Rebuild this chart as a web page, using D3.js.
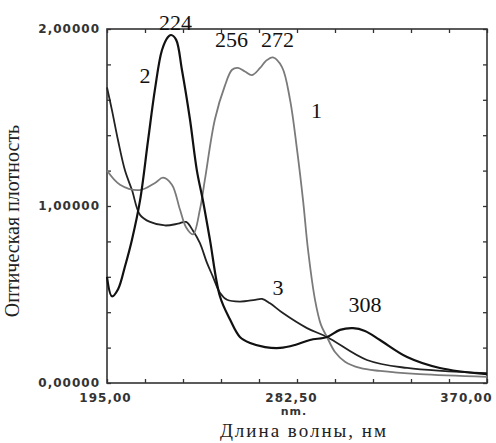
<!DOCTYPE html>
<html>
<head>
<meta charset="utf-8">
<script src="https://cdn.jsdelivr.net/npm/d3@7"></script>
<style>
  body { margin: 0; background: #fff; }
  svg { display: block; }
</style>
</head>
<body>
<svg id="chart"></svg>
<script>
// spectra (wavelength nm / optical density)
var curve1Nm  = [195, 201, 210.2, 217.1, 220.8, 224.9, 228.6, 231.4, 234.6, 237.8, 240.1, 244.7, 249.3, 252.6, 255.3, 258.5, 261.8, 265.5, 268.2, 271.4, 275.6, 279.3, 282.5, 285.3, 287.6, 290.8, 293.5, 296.3, 300, 304.6, 311.5, 320.7, 339, 370];
var curve1Abs = [1.20, 1.12, 1.09, 1.13, 1.16, 1.12, 0.98, 0.88, 0.84, 0.98, 1.15, 1.49, 1.68, 1.77, 1.78, 1.76, 1.74, 1.78, 1.82, 1.84, 1.785, 1.60, 1.32, 1.03, 0.75, 0.47, 0.33, 0.26, 0.175, 0.12, 0.085, 0.068, 0.05, 0.035];

var curve2Nm  = [195, 197.3, 200.1, 203.3, 206.5, 210.2, 213.9, 217.1, 220.3, 223.1, 224.5, 226.8, 229.5, 233.2, 236.4, 239.2, 242.4, 247, 251.6, 256.2, 260.9, 267.8, 274.7, 281.6, 288.5, 296.3, 302.3, 308.3, 313.8, 320.7, 333.2, 348.3, 370];
var curve2Abs = [0.60, 0.49, 0.53, 0.66, 0.81, 1.03, 1.37, 1.66, 1.88, 1.955, 1.966, 1.94, 1.77, 1.49, 1.20, 1.03, 0.81, 0.49, 0.36, 0.26, 0.226, 0.203, 0.198, 0.215, 0.243, 0.26, 0.30, 0.31, 0.294, 0.243, 0.147, 0.085, 0.05];

var curve3Nm  = [195, 197.3, 200.1, 203.3, 206.5, 210.2, 214.8, 221.7, 227.7, 231.4, 234.6, 237.8, 241, 243.8, 247, 250.3, 256.2, 263.2, 266.4, 270.1, 276, 287.1, 296.3, 314.7, 333.2, 370];
var curve3Abs = [1.67, 1.54, 1.37, 1.20, 1.09, 0.95, 0.91, 0.89, 0.90, 0.91, 0.86, 0.79, 0.68, 0.60, 0.51, 0.47, 0.46, 0.47, 0.475, 0.45, 0.395, 0.31, 0.26, 0.13, 0.085, 0.055];

var xTickLabels = [195, 282.5, 370];
var yTickLabels = [0, 1, 2];

// text placed in data units: peak wavelengths and curve numbers
var noteNm  = [226.5, 252.3, 273.5, 313.8, 212.5, 291.5, 273.7];
var noteAbs = [1.994, 1.898, 1.898, 0.401, 1.695, 1.497, 0.497];
var noteTxt = ["224", "256", "272", "308", "2", "1", "3"];

var width = 496, height = 443;
var margin = {top: 29, right: 9, bottom: 60, left: 107};
var w = width - margin.left - margin.right;
var h = height - margin.top - margin.bottom;

var svg = d3.select("#chart")
  .attr("width", width)
  .attr("height", height);

var x = d3.scaleLinear().domain([195, 370]).range([0, w]);
var y = d3.scaleLinear().domain([0, 2]).range([h, 0]);

var g = svg.append("g")
  .attr("transform", "translate(" + margin.left + "," + margin.top + ")");

// frame + inward ticks on all four sides
var xTicks = d3.range(195, 370.01, 17.5);
var yTicks = d3.range(0, 2.001, 0.2);

function styleAxis(sel) {
  sel.select(".domain").remove();
  sel.selectAll("line").attr("stroke", "#333").attr("stroke-width", 1.3);
}

g.append("g").attr("transform", "translate(0," + h + ")")
  .call(d3.axisBottom(x).tickValues(xTicks).tickSizeInner(-4).tickSizeOuter(0).tickFormat(""))
  .call(styleAxis);
g.append("g")
  .call(d3.axisTop(x).tickValues(xTicks).tickSizeInner(-4).tickSizeOuter(0).tickFormat(""))
  .call(styleAxis);
g.append("g")
  .call(d3.axisLeft(y).tickValues(yTicks).tickSizeInner(-4).tickSizeOuter(0).tickFormat(""))
  .call(styleAxis);
g.append("g").attr("transform", "translate(" + w + ",0)")
  .call(d3.axisRight(y).tickValues(yTicks).tickSizeInner(-4).tickSizeOuter(0).tickFormat(""))
  .call(styleAxis);

g.append("rect")
  .attr("width", w).attr("height", h)
  .attr("fill", "none").attr("stroke", "#333").attr("stroke-width", 1.6);

// tick labels
var fmt = function(v, d) { return v.toFixed(d).replace(".", ","); };

var xLab = g.append("g").attr("transform", "translate(0," + h + ")")
  .call(d3.axisBottom(x).tickValues(xTickLabels).tickSize(0).tickPadding(10)
    .tickFormat(function(d) { return fmt(d, 2); }));
xLab.select(".domain").remove();
xLab.selectAll("text")
  .attr("font-family", "DejaVu Sans").attr("font-weight", "bold")
  .attr("font-size", 12).attr("letter-spacing", "1px").attr("fill", "#333")
  .attr("dy", "0.71em")
  .attr("text-anchor", function(d, i) { return i === xTickLabels.length - 1 ? "end" : "middle"; })
  .attr("dx", function(d, i) { return i === 0 ? -2 : (i === xTickLabels.length - 1 ? 5 : -6); });

var yLab = g.append("g")
  .call(d3.axisLeft(y).tickValues(yTickLabels).tickSize(0).tickPadding(7)
    .tickFormat(function(d) { return fmt(d, 5); }));
yLab.select(".domain").remove();
yLab.selectAll("text")
  .attr("font-family", "DejaVu Sans").attr("font-weight", "bold")
  .attr("font-size", 12).attr("letter-spacing", "1px").attr("fill", "#333");

// curves
var line = d3.line()
  .x(function(d) { return x(d[0]); })
  .y(function(d) { return y(d[1]); })
  .curve(d3.curveCatmullRom.alpha(0.5));

function pairs(a, b) { return a.map(function(v, i) { return [v, b[i]]; }); }

g.append("path").datum(pairs(curve3Nm, curve3Abs))
  .attr("fill", "none").attr("stroke", "#222").attr("stroke-width", 1.8).attr("d", line);
g.append("path").datum(pairs(curve1Nm, curve1Abs))
  .attr("fill", "none").attr("stroke", "#7a7a7a").attr("stroke-width", 1.8).attr("d", line);
g.append("path").datum(pairs(curve2Nm, curve2Abs))
  .attr("fill", "none").attr("stroke", "#111").attr("stroke-width", 2.2).attr("d", line);

// annotations
g.selectAll(".note").data(noteTxt).enter().append("text")
  .attr("x", function(d, i) { return x(noteNm[i]); })
  .attr("y", function(d, i) { return y(noteAbs[i]); })
  .attr("text-anchor", "middle")
  .attr("font-family", "Liberation Serif").attr("font-size", 22).attr("fill", "#111")
  .text(function(d) { return d; });

// axis titles
svg.append("text")
  .attr("x", margin.left + x(282.5) - 3).attr("y", 415)
  .attr("text-anchor", "middle")
  .attr("font-family", "DejaVu Sans").attr("font-weight", "bold")
  .attr("font-size", 11).attr("letter-spacing", "1px").attr("fill", "#333")
  .text("nm.");

svg.append("text")
  .attr("x", 304).attr("y", 437)
  .attr("text-anchor", "middle")
  .attr("font-family", "Liberation Serif").attr("font-size", 19)
  .attr("letter-spacing", "2px").attr("fill", "#222")
  .text("Длина волны, нм");

svg.append("text")
  .attr("transform", "translate(19,221) rotate(-90)")
  .attr("text-anchor", "middle")
  .attr("font-family", "Liberation Serif").attr("font-size", 20).attr("fill", "#222")
  .text("Оптическая плотность");
</script>
</body>
</html>
